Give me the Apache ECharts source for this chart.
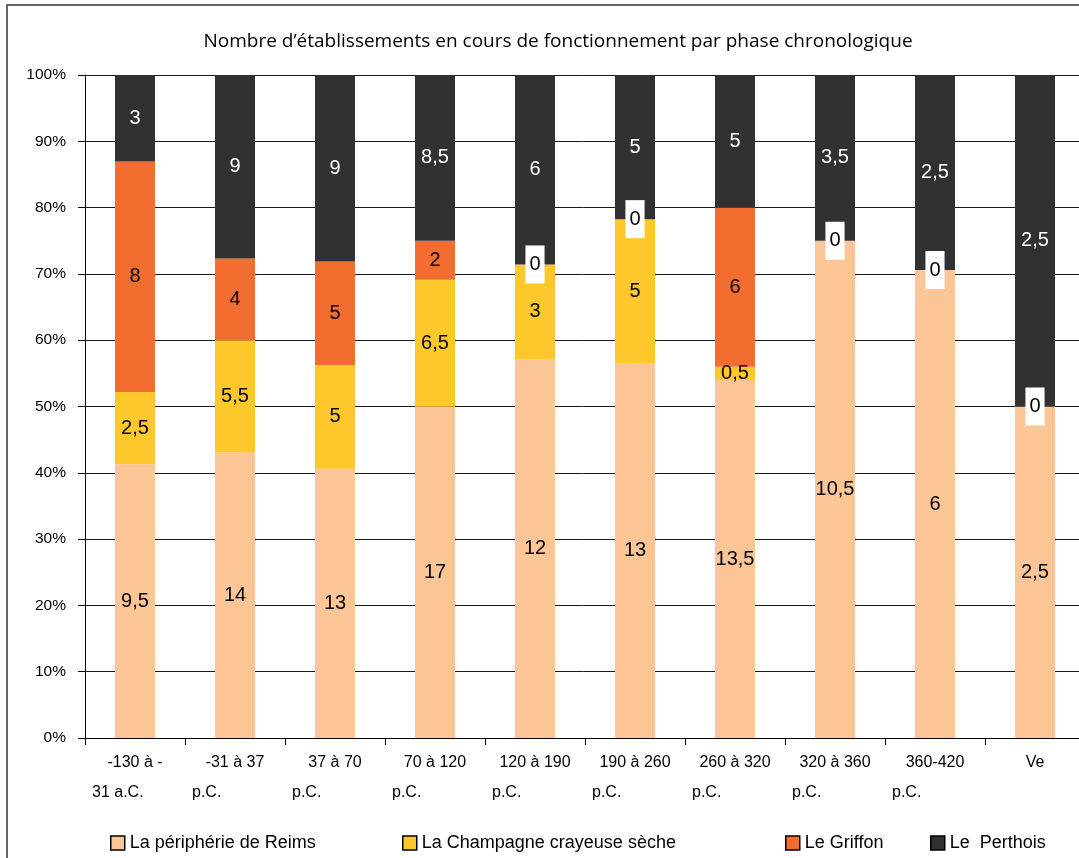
<!DOCTYPE html>
<html>
<head>
<meta charset="utf-8">
<script src="https://cdn.jsdelivr.net/npm/echarts@6/dist/echarts.min.js"></script>
<style>
  html, body { margin: 0; padding: 0; background: #fff; }
  #chart { width: 1079px; height: 858px; }
</style>
</head>
<body>
<div id="chart"></div>
<script>
  // phases chronologiques
  const categories = [
    ['-130 à -', '31 a.C.'], ['-31 à 37', 'p.C.'], ['37 à 70', 'p.C.'], ['70 à 120', 'p.C.'],
    ['120 à 190', 'p.C.'], ['190 à 260', 'p.C.'], ['260 à 320', 'p.C.'], ['320 à 360', 'p.C.'],
    ['360-420', 'p.C.'], ['Ve', '']
  ];
  // nombre d'établissements par région
  const reims = [9.5, 14, 13, 17, 12, 13, 13.5, 10.5, 6, 2.5];
  const champagne = [2.5, 5.5, 5, 6.5, 3, 5, 0.5, null, null, null];
  const griffon = [8, 4, 5, 2, 0, 0, 6, 0, 0, 0];
  const perthois = [3, 9, 9, 8.5, 6, 5, 5, 3.5, 2.5, 2.5];
  const yTicks = [0, 10, 20, 30, 40, 50, 60, 70, 80, 90, 100];

  const names = ['La périphérie de Reims', 'La Champagne crayeuse sèche', 'Le Griffon', 'Le  Perthois'];
  const colors = ['#FBC596', '#FEC82C', '#F26D2F', '#313133'];
  const raw = [reims, champagne, griffon, perthois];

  const totals = categories.map((c, i) => raw.reduce((s, arr) => s + (arr[i] || 0), 0));
  const font = 'Liberation Sans, Arial, sans-serif';

  const chart = echarts.init(document.getElementById('chart'));

  const series = raw.map((arr, k) => ({
    name: names[k],
    type: 'bar',
    stack: 'total',
    barWidth: 40,
    itemStyle: { color: colors[k] },
    data: arr.map((v, i) => v === null ? null : v / totals[i] * 100),
    label: {
      show: true,
      position: 'inside',
      fontFamily: font,
      fontSize: 20,
      color: k === 3 ? '#fff' : '#000',
      formatter: p => {
        const v = arr[p.dataIndex];
        if (v === null) return '';
        return v === 0 ? '{z|0}' : String(v).replace('.', ',');
      },
      rich: {
        z: {
          backgroundColor: '#fff',
          color: '#000',
          fontSize: 20,
          fontFamily: font,
          padding: [9, 4, 9, 4]
        }
      }
    }
  }));

  const legendLefts = [105, 397, 780, 925];

  chart.setOption({
    animation: false,
    title: {
      text: 'Nombre d’établissements en cours de fonctionnement par phase chronologique',
      left: 553,
      top: 27,
      textAlign: 'center',
      textStyle: { fontFamily: 'Open Sans', fontSize: 19, fontWeight: 'normal', color: '#000' }
    },
    graphic: [{
      type: 'rect',
      shape: { x: 7, y: 5, width: 1100, height: 900 },
      style: { fill: 'none', stroke: '#333', lineWidth: 1.5 },
      z: 100
    }],
    legend: names.map((n, k) => ({
      data: [n],
      left: legendLefts[k],
      top: 829,
      icon: 'rect',
      itemWidth: 14,
      itemHeight: 14,
      itemGap: 8,
      itemStyle: { borderColor: '#000', borderWidth: 1.5 },
      textStyle: { fontFamily: font, fontSize: 18, color: '#000' }
    })),
    grid: { left: 85, width: 1000, top: 75, height: 663, outerBoundsMode: 'none' },
    xAxis: {
      type: 'category',
      data: categories.map(c => c[0] + '|' + c[1]),
      axisLine: { lineStyle: { color: '#000', width: 1 } },
      axisTick: { show: true, length: 7, lineStyle: { color: '#000' } },
      axisLabel: {
        interval: 0,
        margin: 10,
        formatter: v => {
          const [a, b] = v.split('|');
          return b ? '{a|' + a + '}\n{b|' + b + '}' : '{a|' + a + '}';
        },
        rich: {
          a: { width: 86, align: 'center', fontSize: 16, lineHeight: 30, color: '#000', fontFamily: font },
          b: { width: 86, align: 'left', fontSize: 16, lineHeight: 30, color: '#000', fontFamily: font }
        }
      }
    },
    yAxis: {
      type: 'value',
      min: yTicks[0],
      max: yTicks[yTicks.length - 1],
      interval: 10,
      axisLine: { show: true, lineStyle: { color: '#000', width: 1 } },
      axisTick: { show: true, length: 7, lineStyle: { color: '#000' } },
      splitLine: { lineStyle: { color: '#1a1a1a', width: 1 } },
      axisLabel: {
        formatter: '{value}%',
        margin: 19,
        fontSize: 15.5,
        color: '#000',
        fontFamily: font
      }
    },
    series: series
  });
</script>
</body>
</html>
